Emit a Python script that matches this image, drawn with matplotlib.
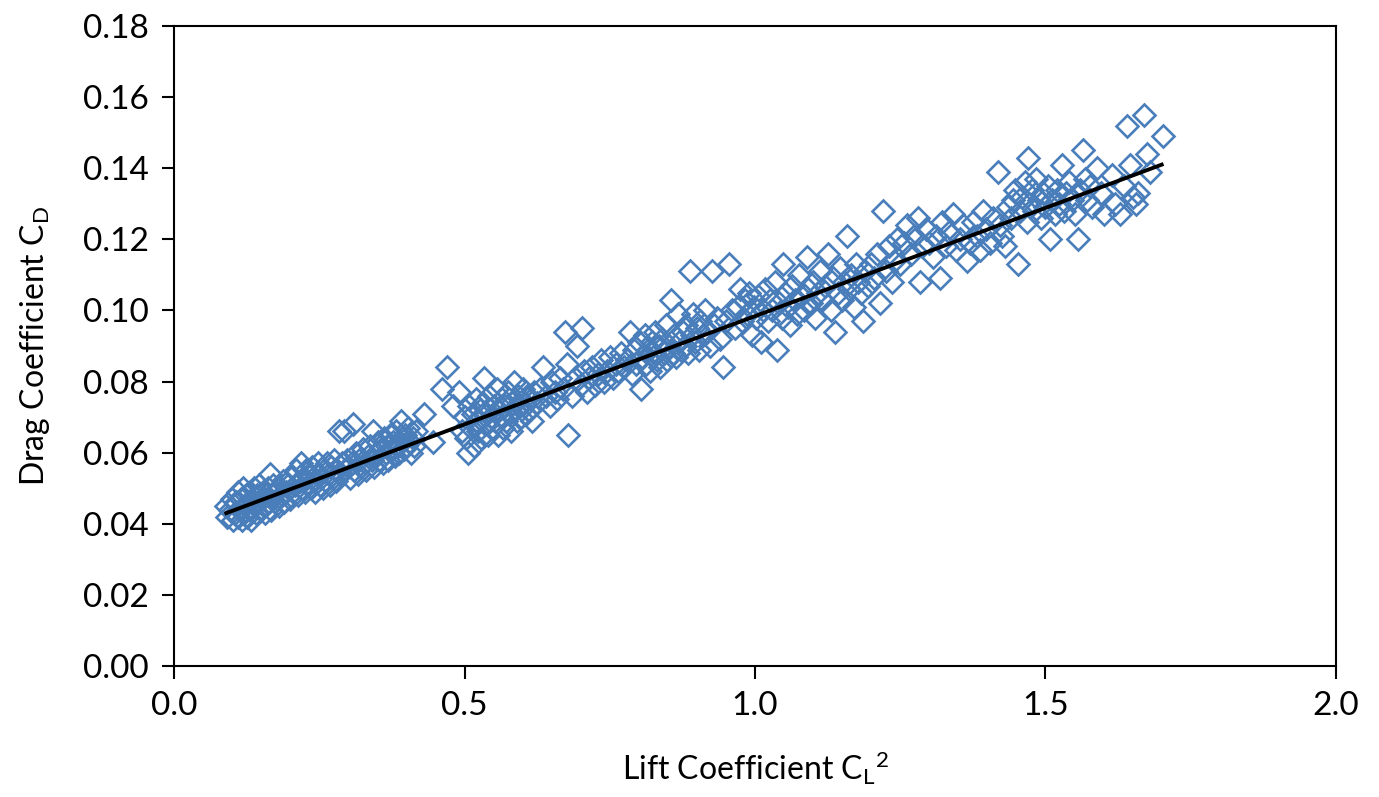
import matplotlib.pyplot as plt
import numpy as np

#Measured points, read off the figure in bands of CL^2
#Band 1: CL^2 about 0.09 to 0.20
cl2_a=[0.090,0.092,0.097,0.100,0.102,0.105,0.107,0.110,0.110,0.113,0.115,0.117,0.118,0.120,0.122,0.124,
       0.126,0.128,0.130,0.131,0.133,0.135,0.137,0.139,0.141,0.143,0.145,0.147,0.149,0.151,0.153,0.155,
       0.157,0.159,0.161,0.163,0.165,0.167,0.169,0.171,0.173,0.175,0.178,0.180,0.182,0.185,0.188,0.190,
       0.193,0.196,0.199,0.202]
cd_a=[0.045,0.042,0.044,0.047,0.041,0.043,0.046,0.049,0.042,0.044,0.047,0.041,0.050,0.043,0.045,0.048,
      0.042,0.046,0.049,0.044,0.041,0.047,0.050,0.045,0.043,0.048,0.046,0.051,0.044,0.047,0.049,0.045,
      0.043,0.048,0.050,0.046,0.054,0.044,0.048,0.051,0.046,0.049,0.047,0.045,0.050,0.048,0.052,0.046,
      0.049,0.051,0.047,0.053]

#Band 2: CL^2 about 0.20 to 0.31
cl2_b=[0.205,0.208,0.210,0.213,0.216,0.218,0.220,0.223,0.226,0.228,0.231,0.233,0.236,0.238,0.241,0.243,
       0.246,0.248,0.251,0.253,0.256,0.258,0.261,0.263,0.266,0.268,0.271,0.273,0.276,0.278,0.281,0.284,
       0.286,0.289,0.292,0.294,0.297,0.300,0.308]
cd_b=[0.049,0.051,0.055,0.048,0.052,0.057,0.050,0.053,0.049,0.055,0.051,0.054,0.050,0.056,0.052,0.049,
      0.054,0.057,0.051,0.053,0.050,0.055,0.052,0.057,0.054,0.051,0.056,0.053,0.058,0.052,0.055,0.066,
      0.054,0.057,0.066,0.055,0.058,0.056,0.068]

#Band 3: CL^2 about 0.30 to 0.49
cl2_c=[0.303,0.306,0.310,0.313,0.316,0.319,0.322,0.325,0.328,0.331,0.334,0.337,0.340,0.343,0.345,0.348,
       0.351,0.353,0.356,0.359,0.361,0.364,0.367,0.369,0.372,0.375,0.377,0.380,0.382,0.385,0.387,0.390,
       0.392,0.395,0.397,0.400,0.403,0.405,0.408,0.411,0.413,0.416,0.430,0.445,0.461,0.470,0.480,0.490]
cd_c=[0.053,0.057,0.055,0.060,0.054,0.058,0.056,0.061,0.057,0.055,0.059,0.062,0.058,0.066,0.056,0.060,
      0.063,0.058,0.061,0.057,0.064,0.060,0.062,0.058,0.065,0.061,0.063,0.059,0.066,0.062,0.060,0.069,
      0.064,0.061,0.065,0.062,0.067,0.063,0.060,0.064,0.062,0.066,0.071,0.063,0.078,0.084,0.073,0.077]

#Band 4: CL^2 about 0.49 to 0.70
cl2_d=[0.495,0.500,0.503,0.506,0.508,0.511,0.514,0.516,0.519,0.521,0.524,0.526,0.529,0.531,0.534,0.536,
       0.538,0.541,0.543,0.546,0.548,0.551,0.553,0.556,0.558,0.560,0.563,0.565,0.567,0.570,0.572,0.575,
       0.577,0.580,0.582,0.585,0.587,0.590,0.592,0.595,0.597,0.600,0.603,0.605,0.608,0.611,0.614,0.617,
       0.620,0.635,0.647,0.676,0.678,0.673,0.694,0.702]
cd_d=[0.066,0.070,0.064,0.060,0.073,0.067,0.071,0.062,0.075,0.069,0.066,0.072,0.064,0.074,0.081,0.068,
      0.071,0.065,0.076,0.070,0.067,0.073,0.069,0.078,0.065,0.072,0.070,0.075,0.067,0.073,0.069,0.077,
      0.071,0.066,0.074,0.080,0.072,0.069,0.076,0.073,0.070,0.078,0.074,0.071,0.076,0.072,0.075,0.069,
      0.077,0.084,0.073,0.085,0.065,0.094,0.090,0.095]

#Band 5: CL^2 about 0.62 to 0.76
cl2_e=[0.625,0.630,0.640,0.650,0.655,0.660,0.665,0.670,0.685,0.690,0.700,0.705,0.710,0.715,0.720,0.725,
       0.730,0.735,0.740,0.745,0.750,0.755,0.760]
cd_e=[0.074,0.078,0.076,0.080,0.077,0.075,0.081,0.078,0.076,0.081,0.079,0.083,0.077,0.081,0.084,0.079,
      0.082,0.086,0.080,0.083,0.087,0.081,0.085]

#Band 6: CL^2 about 0.76 to 0.96
cl2_f=[0.765,0.770,0.775,0.780,0.785,0.788,0.792,0.795,0.800,0.803,0.806,0.810,0.813,0.816,0.819,0.822,
       0.825,0.828,0.831,0.834,0.837,0.840,0.843,0.846,0.849,0.852,0.855,0.858,0.861,0.864,0.867,0.870,
       0.873,0.876,0.879,0.882,0.885,0.888,0.891,0.894,0.897,0.900,0.903,0.906,0.910,0.914,0.918,0.922,
       0.926,0.930,0.935,0.940,0.945,0.950,0.955,0.960]
cd_f=[0.083,0.088,0.084,0.086,0.094,0.082,0.089,0.085,0.091,0.078,0.087,0.093,0.085,0.089,0.083,0.091,
      0.087,0.094,0.086,0.090,0.084,0.092,0.088,0.096,0.086,0.090,0.103,0.088,0.093,0.087,0.099,0.091,
      0.089,0.094,0.090,0.096,0.088,0.111,0.093,0.099,0.091,0.095,0.089,0.097,0.093,0.100,0.094,0.090,
      0.111,0.096,0.098,0.092,0.084,0.097,0.113,0.100]

#Band 7: CL^2 about 0.96 to 1.25
cl2_g=[0.965,0.970,0.974,0.978,0.982,0.986,0.990,0.994,0.998,1.002,1.006,1.010,1.014,1.018,1.022,1.026,
       1.030,1.034,1.038,1.042,1.046,1.048,1.052,1.056,1.060,1.064,1.068,1.072,1.076,1.080,1.084,1.089,
       1.092,1.096,1.100,1.104,1.108,1.112,1.116,1.120,1.126,1.130,1.134,1.138,1.142,1.146,1.150,1.154,
       1.158,1.162,1.166,1.170,1.174,1.178,1.182,1.186,1.190,1.195,1.200,1.205,1.210,1.215,1.220,1.225,
       1.230,1.235,1.240,1.245]
cd_g=[0.095,0.101,0.106,0.097,0.103,0.099,0.105,0.093,0.101,0.098,0.104,0.091,0.100,0.106,0.097,0.103,
      0.100,0.108,0.089,0.102,0.098,0.113,0.105,0.101,0.096,0.107,0.103,0.099,0.110,0.104,0.100,0.115,
      0.106,0.102,0.108,0.098,0.105,0.111,0.103,0.107,0.116,0.100,0.109,0.094,0.105,0.112,0.103,0.108,
      0.121,0.106,0.110,0.101,0.113,0.108,0.105,0.097,0.111,0.107,0.113,0.109,0.116,0.102,0.128,0.111,
      0.118,0.108,0.114,0.120]

#Band 8: CL^2 about 1.25 to 1.44
cl2_h=[1.250,1.256,1.262,1.268,1.274,1.280,1.284,1.288,1.294,1.300,1.306,1.312,1.318,1.322,1.328,1.334,
       1.340,1.346,1.352,1.358,1.365,1.370,1.376,1.382,1.387,1.392,1.398,1.404,1.410,1.418,1.422,1.426,
       1.430,1.436,1.440]
cd_h=[0.113,0.119,0.124,0.116,0.121,0.126,0.108,0.118,0.123,0.119,0.115,0.121,0.109,0.125,0.118,0.122,
      0.127,0.117,0.120,0.124,0.114,0.119,0.125,0.121,0.117,0.128,0.123,0.119,0.126,0.139,0.124,0.121,
      0.118,0.129,0.126]

#Band 9: CL^2 about 1.44 to 1.71
cl2_i=[1.444,1.448,1.453,1.456,1.460,1.464,1.468,1.470,1.472,1.476,1.480,1.484,1.488,1.492,1.496,1.500,
       1.504,1.508,1.512,1.516,1.520,1.524,1.528,1.532,1.536,1.540,1.545,1.550,1.556,1.560,1.565,1.568,
       1.572,1.576,1.580,1.588,1.595,1.600,1.614,1.620,1.628,1.635,1.640,1.645,1.650,1.655,1.660,1.670,
       1.675,1.680,1.702]
cd_i=[0.131,0.134,0.113,0.128,0.132,0.136,0.125,0.143,0.130,0.134,0.128,0.137,0.131,0.126,0.133,0.129,
      0.135,0.120,0.131,0.127,0.134,0.130,0.141,0.128,0.133,0.136,0.131,0.127,0.120,0.134,0.145,0.137,
      0.131,0.135,0.129,0.140,0.133,0.127,0.138,0.130,0.127,0.135,0.152,0.141,0.132,0.130,0.133,0.155,
      0.144,0.139,0.149]

#Trend line end points
fit_x=[0.09,1.70]
fit_y=[0.0430,0.1410]

#Axis ticks
xticks=[0.0,0.5,1.0,1.5,2.0]
yticks=[0.00,0.02,0.04,0.06,0.08,0.10,0.12,0.14,0.16,0.18]

cl2=np.concatenate([cl2_a,cl2_b,cl2_c,cl2_d,cl2_e,cl2_f,cl2_g,cl2_h,cl2_i])
cd=np.concatenate([cd_a,cd_b,cd_c,cd_d,cd_e,cd_f,cd_g,cd_h,cd_i])

plt.rcParams['font.family']=['Lato','DejaVu Sans']
plt.rcParams['mathtext.default']='regular'

fig=plt.figure(figsize=(13.79,7.97),dpi=100)
ax=fig.add_axes([0.1262,0.1644,0.8426,0.8030])

#Scatter of the data as open diamonds
ax.plot(cl2,cd,linestyle='none',marker='D',markersize=11.5,markerfacecolor='none',
        markeredgecolor='#4a7ebb',markeredgewidth=1.9,zorder=2)

#Linear trend
ax.plot(fit_x,fit_y,color='black',linewidth=2.8,zorder=3)

ax.set_xlim(0,2.0)
ax.set_ylim(0,0.18)
ax.set_xticks(xticks)
ax.set_yticks(yticks)
ax.set_xticklabels(['%.1f'%t for t in xticks])
ax.set_yticklabels(['%.2f'%t for t in yticks])
ax.tick_params(direction='out',length=9,width=1.5,labelsize=24,pad=9,color='black')
for s in ax.spines.values():
    s.set_linewidth(1.5)
    s.set_color('black')

ax.set_xlabel('Lift Coefficient C$_L$$^2$',fontsize=23,labelpad=20)
ax.set_ylabel('Drag Coefficient C$_D$',fontsize=23,labelpad=22)

plt.savefig('out.png',dpi=100)
